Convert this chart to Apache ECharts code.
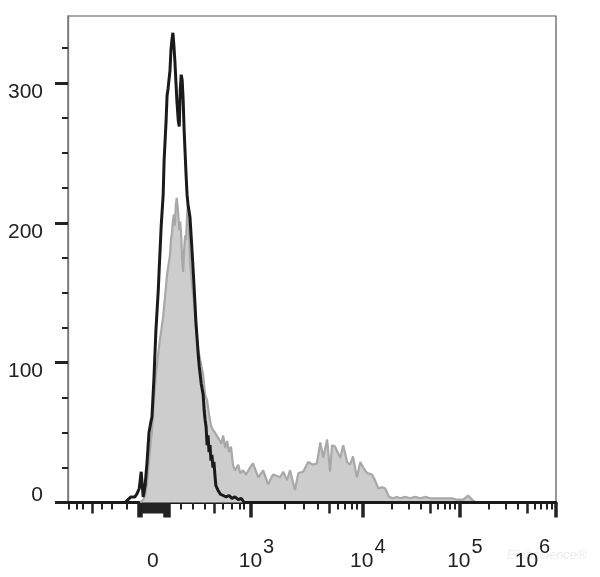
<!DOCTYPE html>
<html>
<head>
<meta charset="utf-8">
<script src="https://cdn.jsdelivr.net/npm/echarts@6/dist/echarts.min.js"></script>
<style>
html,body{margin:0;padding:0;background:#fff;}
#chart{width:600px;height:577px;}
</style>
</head>
<body>
<div id="chart"></div>
<script>
// ---- Data (x in display channels of the logicle axis, 0..1000; y = count) ----
const blackChannels = [0,117,123,129,133,137,141,146,150,154,158,162,166,170,172,176,180,185,187,191,195,197,199,201,203,205,207,209,211,213,215,217,219,221,223,226,228,230,232,234,236,238,240,242,244,246,250,254,258,262,267,269,273,277,279,281,283,285,287,289,291,293,295,297,299,301,303,307,312,318,324,330,336,342,349,355,361,1000];
const blackCounts   = [0,0,2,4,5,4,6,10,22,4,12,29,50,58,61,88,122,152,168,198,220,245,259,273,291,296,295,309,324,331,336,327,316,302,288,273,269,295,306,302,288,266,250,234,220,213,204,181,157,130,105,97,85,77,66,59,54,41,48,36,41,30,34,25,29,20,12,9,6,5,4,5,3,4,2,3,0,0];

const grayChannels = [148,154,158,162,166,170,172,176,180,182,187,191,195,199,203,205,209,211,213,215,217,219,221,223,226,228,230,232,234,236,238,240,242,244,246,248,250,254,258,262,267,271,277,281,285,289,293,297,301,305,310,314,318,322,326,330,334,338,342,349,353,359,365,373,379,390,400,410,420,435,441,449,455,465,472,482,492,502,510,517,523,531,537,541,547,551,558,564,572,578,584,592,599,605,613,623,629,636,644,650,654,658,666,674,681,691,701,711,722,732,742,756,767,777,787,797,810,820,828,836];
const grayCounts   = [0,2,5,14,30,45,50,73,91,97,113,123,133,148,163,168,177,188,193,202,206,198,213,218,206,195,201,191,173,165,181,191,188,206,213,195,173,156,145,123,109,102,91,77,73,63,55,52,50,50,45,42,48,39,44,36,40,27,23,27,21,23,20,25,28,18,23,13,20,18,22,16,23,9,21,22,29,27,28,43,32,45,22,41,40,41,32,41,29,27,33,18,29,25,21,20,16,10,11,10,11,4,3,4,3,4,3,4,3,4,3,3,3,3,3,2,2,5,2,0];

// ---- Axis ticks / labels ----
const yLabelValues = [0, 100, 200, 300];
const yMinorValues = [25, 50, 75, 125, 150, 175, 225, 250, 275, 325];
const yMax = 348;

const decadeChannels = {3: 375, 4: 603, 5: 802, 6: 1000};
const xLabelChannels = [174, 375, 603, 802, 1000];
const xLabelBase = ['0', '10', '10', '10', '10'];
const xLabelExp  = ['', '3', '4', '5', '6'];
const xLinearSmall  = [1, 18, 31, 70, 90, 121, 232, 256, 281, 318, 336, 351, 361];
const xLinearMedium = [49, 299];

// build decade sub-ticks (k x 10^n) on the log part of the axis
const xSmall = xLinearSmall.slice();
const xMedium = xLinearMedium.slice();
for (let n = 3; n < 6; n++) {
  const a = decadeChannels[n], b = decadeChannels[n + 1];
  for (let k = 2; k <= 9; k++) {
    const v = a + (b - a) * Math.log10(k);
    if (k === 5) xMedium.push(v); else xSmall.push(v);
  }
}
// dense ticks around zero
const xCluster = [];
for (let v = 144; v <= 209; v += 3) xCluster.push(v);
const xClusterMajor = [144, 147, 150, 198, 201, 204, 207];
const xMajor = [375, 603, 802, 1000].concat(xClusterMajor);

const FONT = '"Liberation Sans", Arial, Helvetica, sans-serif';
const TXT = '#222';

function zip(xs, ys) { return xs.map((x, i) => [x, ys[i]]); }

function tickXAxis(values, len, width) {
  return {
    type: 'value', min: 0, max: 1000, position: 'bottom', gridIndex: 0,
    axisLine: {show: false},
    splitLine: {show: false},
    axisLabel: {show: false},
    axisTick: {show: true, customValues: values, length: len, lineStyle: {color: TXT, width: width}}
  };
}

const chart = echarts.init(document.getElementById('chart'), null, {renderer: 'canvas'});
chart.setOption({
  animation: false,
  backgroundColor: '#fff',
  grid: {left: 68, right: 44, top: 16, bottom: 74.5, containLabel: false, outerBoundsMode: 'none',
         show: true, borderColor: '#555', borderWidth: 1.2, backgroundColor: 'transparent'},
  xAxis: [
    {
      type: 'value', min: 0, max: 1000, position: 'bottom',
      axisLine: {show: true, onZero: false, lineStyle: {color: '#1a1a1a', width: 3}},
      splitLine: {show: false},
      axisTick: {show: true, customValues: xMajor, length: 15, lineStyle: {color: TXT, width: 3.5}},
      axisLabel: {
        show: true, customValues: xLabelChannels, margin: 35, showMinLabel: true, showMaxLabel: true,
        hideOverlap: false,
        formatter: function (v) {
          const i = xLabelChannels.findIndex(c => Math.abs(c - v) < 0.5);
          if (i < 0) return '';
          if (!xLabelExp[i]) return '{z|' + xLabelBase[i] + '}';
          if (i === xLabelChannels.length - 1) return '{b|' + xLabelBase[i] + '}{e6|' + xLabelExp[i] + '}';
          return '{b|' + xLabelBase[i] + '}{e|' + xLabelExp[i] + '}';
        },
        rich: {
          b: {fontSize: 21, fontFamily: FONT, color: TXT, padding: [0, 0, 0, 11]},
          e: {fontSize: 20, fontFamily: FONT, color: TXT, padding: [0, 0, 27, 1]},
          e6: {fontSize: 20, fontFamily: FONT, color: TXT, padding: [0, 58, 27, 1]},
          z: {fontSize: 21, fontFamily: FONT, color: TXT, lineHeight: 47}
        }
      }
    },
    tickXAxis(xMedium, 11, 2.5),
    tickXAxis(xSmall, 7, 2),
    tickXAxis(xCluster, 11, 2)
  ],
  yAxis: [
    {
      type: 'value', min: 0, max: yMax, position: 'left',
      axisLine: {show: true, lineStyle: {color: '#777', width: 1.3}},
      splitLine: {show: false},
      axisTick: {show: true, customValues: yLabelValues, length: 13, lineStyle: {color: TXT, width: 3}},
      axisLabel: {
        show: true, customValues: yLabelValues, margin: 25, align: 'right', verticalAlign: 'middle',
        formatter: function (v) { return v === 0 ? '{u|0}' : '{d|' + v + '}'; },
        rich: {
          d: {fontSize: 21, fontFamily: FONT, color: TXT, padding: [18, 0, 0, 0]},
          u: {fontSize: 21, fontFamily: FONT, color: TXT, padding: [0, 0, 15, 0]}
        }
      }
    },
    {
      type: 'value', min: 0, max: yMax, position: 'left', gridIndex: 0,
      axisLine: {show: false},
      splitLine: {show: false},
      axisLabel: {show: false},
      axisTick: {show: true, customValues: yMinorValues, length: 6, lineStyle: {color: TXT, width: 2}}
    }
  ],
  graphic: [{
    type: 'text', left: 507, top: 549, z: -10,
    style: {text: 'Elabscience\u00ae', fill: '#ececec', font: 'italic 13px ' + FONT}
  }],
  series: [
    {
      name: 'control', type: 'line', xAxisIndex: 0, yAxisIndex: 0,
      data: zip(grayChannels, grayCounts),
      showSymbol: false, symbol: 'none', smooth: false, z: 2,
      lineStyle: {color: '#a8a8a8', width: 2.2},
      areaStyle: {color: '#cdcdcd', opacity: 1}
    },
    {
      name: 'stained', type: 'line', xAxisIndex: 0, yAxisIndex: 0,
      data: zip(blackChannels, blackCounts),
      showSymbol: false, symbol: 'none', smooth: false, z: 3,
      lineStyle: {color: '#1a1a1a', width: 3}
    }
  ]
});
</script>
</body>
</html>
